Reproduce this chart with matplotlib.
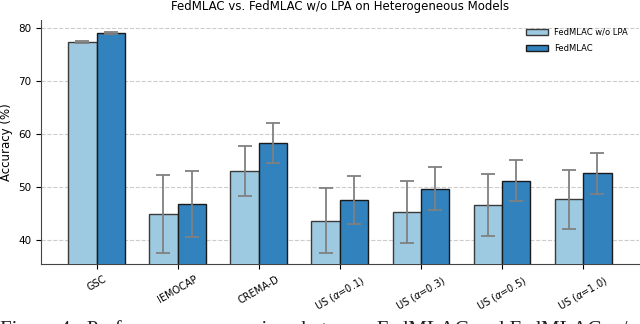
import numpy as np
import matplotlib
matplotlib.use('Agg')
import matplotlib.pyplot as plt

# data
categories = ['GSC', 'IEMOCAP', 'CREMA-D', r'US ($\alpha$=0.1)', r'US ($\alpha$=0.3)',
              r'US ($\alpha$=0.5)', r'US ($\alpha$=1.0)']
wo_lpa_mean = [77.4, 44.9, 53.0, 43.7, 45.3, 46.6, 47.7]
wo_lpa_std = [0.2, 7.4, 4.7, 6.1, 5.9, 5.8, 5.6]
fedmlac_mean = [79.1, 46.8, 58.3, 47.6, 49.7, 51.2, 52.6]
fedmlac_std = [0.2, 6.2, 3.8, 4.5, 4.1, 3.9, 3.8]

x = np.arange(len(categories))
width = 0.35

fig = plt.figure(figsize=(6.4, 3.24), dpi=100)
ax = fig.add_axes([0.064, 0.185, 0.934, 0.753])

err_kw = dict(ecolor='#808080', elinewidth=1.3, capsize=5, capthick=1.3)
ax.bar(x - width / 2, wo_lpa_mean, width, yerr=wo_lpa_std, color='#9ecae1',
       edgecolor='#3a3a3a', linewidth=1, label='FedMLAC w/o LPA', error_kw=err_kw, zorder=3)
ax.bar(x + width / 2, fedmlac_mean, width, yerr=fedmlac_std, color='#3182bd',
       edgecolor='#1a1a1a', linewidth=1, label='FedMLAC', error_kw=err_kw, zorder=3)

ax.set_xticks(x)
ax.set_xticklabels(categories, rotation=30, ha='center', fontsize=7)
ax.set_xlim(-0.685, 6.685)
ax.set_ylim(35.5, 81.5)
ax.set_yticks([40, 50, 60, 70, 80])
ax.tick_params(axis='y', labelsize=7.5)
ax.set_ylabel('Accuracy (%)', fontsize=8.5)
ax.set_title('FedMLAC vs. FedMLAC w/o LPA on Heterogeneous Models', fontsize=8.5, pad=7)

ax.grid(axis='y', linestyle='--', color='#cccccc', linewidth=0.8, zorder=0)
for s in ['top', 'right']:
    ax.spines[s].set_visible(False)
for s in ['left', 'bottom']:
    ax.spines[s].set_color('#444444')

ax.legend(loc='upper right', frameon=False, fontsize=6, handlelength=2.6, handleheight=0.7,
          labelspacing=0.9, bbox_to_anchor=(0.995, 1.0))

# caption of the page below the chart, cut off at the bottom edge as in the reference
fig.text(0.0, 4 / 324, 'Figure 4:  Performance comparison between FedMLAC and FedMLAC w/o LPA on heterogeneous',
         fontsize=15, family='Liberation Serif', va='top', ha='left', color='#222222')

fig.savefig('out.png', dpi=100)
